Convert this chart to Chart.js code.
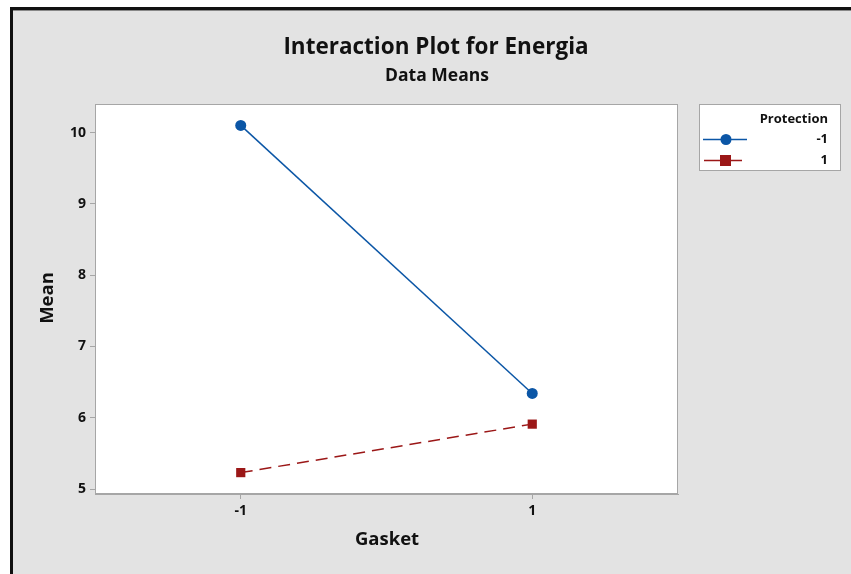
<!DOCTYPE html>
<html>
<head>
<meta charset="utf-8">
<script src="https://cdn.jsdelivr.net/npm/chart.js@4"></script>
<style>
  html, body { margin: 0; padding: 0; background: #fff; }
  #wrap { width: 851px; height: 574px; position: relative; }
</style>
</head>
<body>
<div id="wrap"><canvas id="chart" width="851" height="574"></canvas></div>
<script>
// Gasket levels on the x axis, one line per Protection level
const gasketLevels = [-1, 1];
const meansProtMinus = [10.10, 6.34];
const meansProtPlus = [5.23, 5.91];
const yTicks = [5, 6, 7, 8, 9, 10];
const seriesNames = ["-1", "1"];

const FONT = "'Open Sans', 'Noto Sans', sans-serif";
const BLUE = "#0b56a6";
const RED = "#9b1717";

// frame, titles and legend box drawn straight onto the canvas
const decor = {
  id: "decor",
  beforeDraw(chart) {
    const c = chart.ctx;
    const W = chart.width, H = chart.height;
    c.save();
    c.fillStyle = "#ffffff";
    c.fillRect(0, 0, W, H);
    c.fillStyle = "#e3e3e3";
    c.fillRect(11, 8, W - 11, H - 8);
    // black frame top + left
    c.fillStyle = "#111";
    c.fillRect(10, 7, W - 10, 3);
    c.fillRect(10, 7, 3, H - 7);
    c.fillStyle = "#888";
    c.fillRect(13, 10, W - 13, 1);
    // plot area
    const a = chart.chartArea;
    c.fillStyle = "#ffffff";
    c.fillRect(a.left, a.top, a.right - a.left, a.bottom - a.top);
    c.restore();
  },
  afterDraw(chart) {
    const c = chart.ctx;
    const a = chart.chartArea;
    c.save();
    c.strokeStyle = "#a6a6a6";
    c.lineWidth = 1;
    c.strokeRect(a.left + 0.5, a.top + 0.5, a.right - a.left - 1, a.bottom - a.top - 1);

    c.fillStyle = "#111";
    c.textAlign = "center";
    c.textBaseline = "middle";
    c.font = "bold 22.5px " + FONT;
    c.fillText("Interaction Plot for Energia", 436, 48);
    c.font = "bold 17.5px " + FONT;
    c.fillText("Data Means", 437, 76);

    // axis titles
    c.font = "bold 18.5px " + FONT;
    c.fillText("Gasket", 387, 540);
    c.save();
    c.translate(48, 298);
    c.rotate(-Math.PI / 2);
    c.fillText("Mean", 0, 0);
    c.restore();

    // legend
    c.fillStyle = "#ffffff";
    c.fillRect(699, 104, 142, 67);
    c.strokeStyle = "#a6a6a6";
    c.strokeRect(699.5, 104.5, 141, 66);
    c.fillStyle = "#111";
    c.textAlign = "right";
    c.font = "bold 13px " + FONT;
    c.fillText("Protection", 828, 119);
    c.fillText(seriesNames[0], 828, 139);
    c.fillText(seriesNames[1], 828, 160);

    c.lineWidth = 1.5;
    c.strokeStyle = BLUE;
    c.beginPath(); c.moveTo(703, 139.5); c.lineTo(747, 139.5); c.stroke();
    c.fillStyle = BLUE;
    c.beginPath(); c.arc(726, 139.5, 5.5, 0, Math.PI * 2); c.fill();

    c.strokeStyle = RED;
    c.beginPath(); c.moveTo(704, 160.5); c.lineTo(742, 160.5); c.stroke();
    c.fillStyle = RED;
    c.fillRect(720, 155, 11, 11);
    c.restore();
  }
};

new Chart(document.getElementById("chart"), {
  type: "line",
  data: {
    datasets: [
      {
        label: seriesNames[0],
        data: gasketLevels.map((g, i) => ({ x: g, y: meansProtMinus[i] })),
        borderColor: BLUE,
        backgroundColor: BLUE,
        borderWidth: 1.5,
        pointStyle: "circle",
        pointRadius: 5.5,
        pointBorderWidth: 0
      },
      {
        label: seriesNames[1],
        data: gasketLevels.map((g, i) => ({ x: g, y: meansProtPlus[i] })),
        borderColor: RED,
        backgroundColor: RED,
        borderWidth: 1.5,
        borderDash: [12, 7],
        pointStyle: "rect",
        pointRadius: 6.5,
        pointBorderWidth: 0
      }
    ]
  },
  options: {
    responsive: false,
    animation: false,
    layout: { padding: { top: 104, right: 173, left: 0, bottom: 0 } },
    plugins: { legend: { display: false }, tooltip: { enabled: false }, title: { display: false } },
    scales: {
      x: {
        type: "linear",
        min: -2,
        max: 2,
        afterBuildTicks: s => { s.ticks = gasketLevels.map(v => ({ value: v })); },
        afterFit: s => { s.height = 80; },
        grid: { drawOnChartArea: false, color: "#a6a6a6", tickLength: 5 },
        border: { color: "#a6a6a6" },
        ticks: { color: "#111", font: { family: FONT, size: 14, weight: "bold" }, padding: 4 }
      },
      y: {
        min: 4.93,
        max: 10.4,
        afterBuildTicks: s => { s.ticks = yTicks.map(v => ({ value: v })); },
        afterFit: s => { s.width = 95; },
        grid: { drawOnChartArea: false, color: "#a6a6a6", tickLength: 5 },
        border: { color: "#a6a6a6" },
        ticks: { color: "#111", font: { family: FONT, size: 14, weight: "bold" }, padding: 4 }
      }
    }
  },
  plugins: [decor]
});
</script>
</body>
</html>
